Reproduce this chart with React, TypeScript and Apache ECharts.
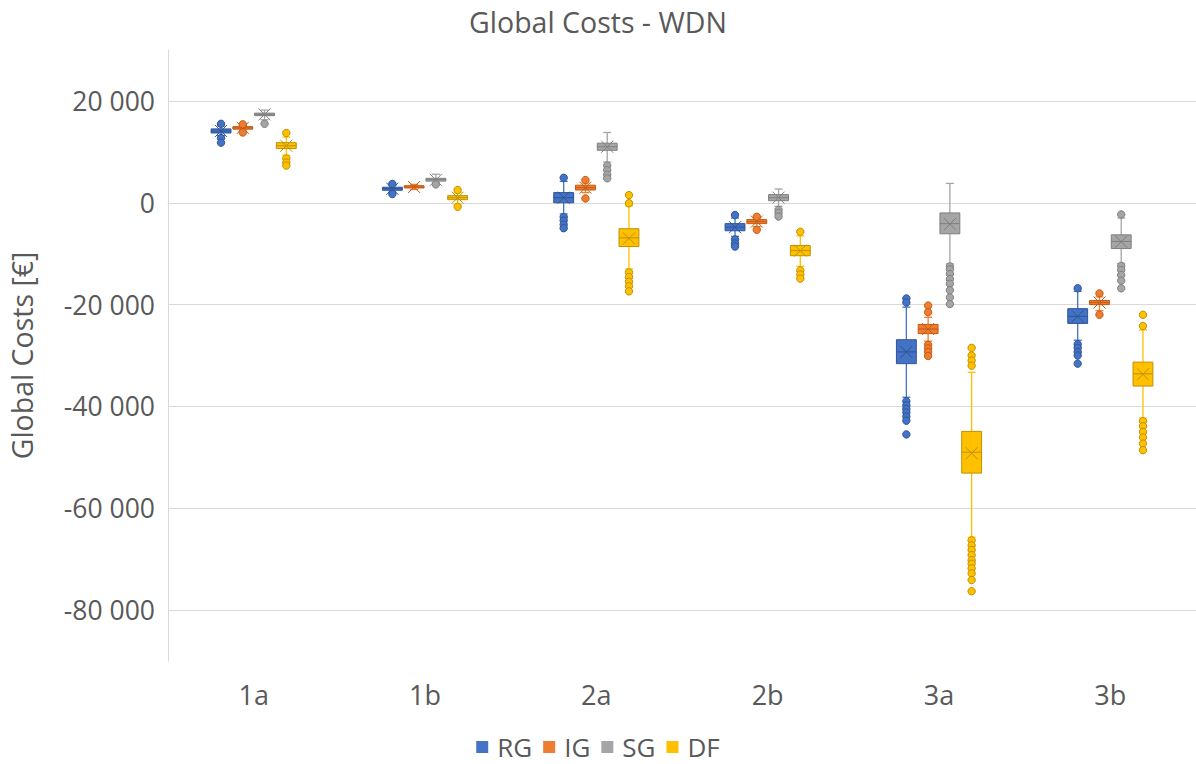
import React, { useEffect, useRef } from 'react';
import * as echarts from 'echarts';

// Scenario categories on the horizontal axis
const categories = ['1a', '1b', '2a', '2b', '3a', '3b'];
const seriesNames = ['RG', 'IG', 'SG', 'DF'];

// Box statistics per category: [min whisker, Q1, median, Q3, max whisker, mean]
const rgStats = [
  [13200, 13700, 14100, 14500, 15100, 14100],
  [2100, 2450, 2750, 3050, 3400, 2750],
  [-2200, 0, 1000, 2000, 4200, 1000],
  [-6600, -5500, -4800, -4100, -3000, -4800],
  [-38200, -31600, -29300, -26900, -20500, -29300],
  [-27000, -23700, -22300, -20800, -17400, -22300],
];
const igStats = [
  [14100, 14450, 14700, 14950, 15200, 14700],
  [2600, 2900, 3100, 3350, 3600, 3100],
  [2000, 2500, 2950, 3450, 3900, 2950],
  [-4700, -4100, -3700, -3300, -3000, -3700],
  [-27200, -25700, -24800, -23900, -22500, -24800],
  [-21200, -20000, -19600, -19200, -18500, -19600],
];
const sgStats = [
  [16300, 17100, 17350, 17600, 18200, 17350],
  [4000, 4250, 4550, 4800, 5600, 4500],
  [8000, 10300, 11000, 11700, 13800, 11000],
  [-700, 400, 1000, 1600, 2700, 1000],
  [-12000, -6100, -4100, -2000, 3800, -4200],
  [-11900, -9000, -7600, -6300, -3000, -7650],
];
const dfStats = [
  [9300, 10650, 11200, 11800, 12900, 11200],
  [-300, 600, 1000, 1400, 2000, 1000],
  [-13000, -8600, -6900, -5100, -600, -7000],
  [-12500, -10400, -9400, -8400, -6500, -9400],
  [-65700, -53100, -49000, -44900, -33300, -49200],
  [-42300, -36000, -33600, -31300, -25000, -33700],
];

// Outlying runs per category
const rgOutliers = [
  [15500, 12700, 11800],
  [3700, 1700],
  [4900, -2800, -3500, -4300, -5000],
  [-2400, -7200, -8000, -8600],
  [-18800, -19600, -39000, -39800, -40500, -41200, -42000, -42800, -45500],
  [-16800, -27800, -28500, -29300, -30000, -31600],
];
const igOutliers = [
  [15400, 13800],
  [],
  [4450, 850],
  [-2750, -5300],
  [-20200, -21500, -27900, -28600, -29300, -30100],
  [-17800, -22000],
];
const sgOutliers = [
  [15500],
  [3600],
  [7300, 6400, 5500, 4800],
  [-1400, -2000, -2700],
  [-12500, -13100, -14000, -15000, -15900, -17200, -18600, -19900],
  [-2300, -12400, -13200, -14200, -15300, -16800],
];
const dfOutliers = [
  [13700, 8700, 7900, 7300],
  [2500, -800],
  [1500, -100, -13700, -14600, -15500, -16400, -17400],
  [-5700, -13300, -14100, -14900],
  [-28500, -30000, -31000, -32000, -66300, -67300, -68200, -69200, -70200, -70900, -71800, -72800, -74100, -76300],
  [-22000, -24200, -42900, -43900, -45000, -46100, -47300, -48600],
];

// Labelled value ticks
const yTickValues = [-80000, -60000, -40000, -20000, 0, 20000];
const yMin = -90000;
const yMax = 30000;

const statsBySeries = [rgStats, igStats, sgStats, dfStats];
const outliersBySeries = [rgOutliers, igOutliers, sgOutliers, dfOutliers];

const fills = ['#4472C4', '#ED7D31', '#A5A5A5', '#FFC000'];
const edges = ['#2F5597', '#C55A11', '#7F7F7F', '#BF9000'];

const TEXT = '#595959';
const FONT = "'Open Sans', sans-serif";
const SLOT = 0.127; // horizontal spacing of the four boxes, as a share of the band
const HALF = 0.058; // half box width, as a share of the band

const formatValue = (v: number) =>
  (v < 0 ? '-' : '') + String(Math.abs(v)).replace(/\B(?=(\d{3})+(?!\d))/g, ' ');

function slotX(api: any, cat: number, slot: number) {
  const band = api.size([1, 0])[0];
  return { cx: api.coord([cat, 0])[0] + (slot - 1.5) * band * SLOT, band };
}

function boxRenderer(slot: number) {
  const fill = fills[slot];
  const edge = edges[slot];
  return (_params: any, api: any) => {
    const cat = api.value(0);
    const { cx, band } = slotX(api, cat, slot);
    const half = band * HALF;
    const y = (i: number) => api.coord([cat, api.value(i)])[1];
    const yLo = y(1), yQ1 = y(2), yMed = y(3), yQ3 = y(4), yHi = y(5), yMean = y(6);
    const cap = 4;
    const xs = 6;
    const whisker = { stroke: fill, lineWidth: 1.3 };
    const mark = { stroke: edge, lineWidth: 1 };
    return {
      type: 'group',
      children: [
        { type: 'line', shape: { x1: cx, y1: yHi, x2: cx, y2: yQ3 }, style: whisker },
        { type: 'line', shape: { x1: cx, y1: yQ1, x2: cx, y2: yLo }, style: whisker },
        { type: 'line', shape: { x1: cx - cap, y1: yHi, x2: cx + cap, y2: yHi }, style: whisker },
        { type: 'line', shape: { x1: cx - cap, y1: yLo, x2: cx + cap, y2: yLo }, style: whisker },
        {
          type: 'rect',
          shape: { x: cx - half, y: yQ3, width: half * 2, height: Math.max(yQ1 - yQ3, 1) },
          style: { fill, stroke: edge, lineWidth: 1 },
        },
        { type: 'line', shape: { x1: cx - half, y1: yMed, x2: cx + half, y2: yMed }, style: mark },
        { type: 'line', shape: { x1: cx - xs, y1: yMean - xs, x2: cx + xs, y2: yMean + xs }, style: mark },
        { type: 'line', shape: { x1: cx - xs, y1: yMean + xs, x2: cx + xs, y2: yMean - xs }, style: mark },
      ],
    };
  };
}

function outlierRenderer(slot: number) {
  return (_params: any, api: any) => {
    const cat = api.value(0);
    const { cx } = slotX(api, cat, slot);
    const cy = api.coord([cat, api.value(1)])[1];
    return {
      type: 'circle',
      shape: { cx, cy, r: 3.7 },
      style: { fill: fills[slot], stroke: edges[slot], lineWidth: 1 },
    };
  };
}

export default function App() {
  const ref = useRef<HTMLDivElement>(null);

  useEffect(() => {
    if (!ref.current) return;
    const chart = echarts.init(ref.current, undefined, { renderer: 'svg' });

    const boxSeries = seriesNames.map((name, s) => ({
      name,
      type: 'custom',
      z: 3,
      itemStyle: { color: fills[s] },
      renderItem: boxRenderer(s),
      encode: { x: 0, y: [1, 2, 3, 4, 5] },
      data: statsBySeries[s].map((st, c) => [c, ...st]),
    }));

    const outlierSeries = seriesNames.map((name, s) => ({
      name,
      type: 'custom',
      z: 4,
      itemStyle: { color: fills[s] },
      renderItem: outlierRenderer(s),
      encode: { x: 0, y: 1 },
      data: outliersBySeries[s].flatMap((vals, c) => vals.map((v) => [c, v])),
    }));

    chart.setOption({
      animation: false,
      backgroundColor: '#ffffff',
      title: {
        text: 'Global Costs - WDN',
        left: 'center',
        top: 2,
        textStyle: { color: TEXT, fontSize: 28.5, fontWeight: 'normal', fontFamily: FONT },
      },
      legend: {
        data: seriesNames.map((name) => ({ name, icon: 'rect' })),
        left: 'center',
        top: 734,
        padding: 0,
        itemWidth: 12,
        itemHeight: 12,
        itemGap: 11,
        textStyle: { color: TEXT, fontSize: 26, fontFamily: FONT, padding: [0, 0, 0, 4] },
      },
      grid: {
        left: 168,
        right: 0,
        top: 50,
        bottom: 103,
        containLabel: false,
        outerBoundsMode: 'none',
      },
      xAxis: {
        type: 'category',
        data: categories,
        axisLine: { show: true, lineStyle: { color: '#d9d9d9', width: 1 } },
        axisTick: { show: false },
        splitLine: { show: false },
        axisLabel: { color: TEXT, fontSize: 27, fontFamily: FONT, margin: 20 },
      },
      yAxis: {
        type: 'value',
        min: yMin,
        max: yMax,
        interval: 10000,
        name: 'Global Costs [€]',
        nameLocation: 'middle',
        nameGap: 132,
        nameTextStyle: { color: TEXT, fontSize: 28.5, fontFamily: FONT },
        axisLine: { show: true, lineStyle: { color: '#d9d9d9', width: 1 } },
        axisTick: { show: false },
        axisLabel: {
          color: TEXT,
          fontSize: 26.5,
          fontFamily: FONT,
          margin: 13,
          formatter: (v: number) => (yTickValues.includes(v) ? formatValue(v) : ''),
        },
        splitLine: {
          show: true,
          lineStyle: { color: ['rgba(0,0,0,0)', '#d9d9d9'], width: 1 },
        },
      },
      series: [...boxSeries, ...outlierSeries],
    });

    return () => chart.dispose();
  }, []);

  return (
    <div
      ref={ref}
      style={{ position: 'absolute', left: 0, top: 0, width: 1196, height: 764, background: '#fff' }}
    />
  );
}
